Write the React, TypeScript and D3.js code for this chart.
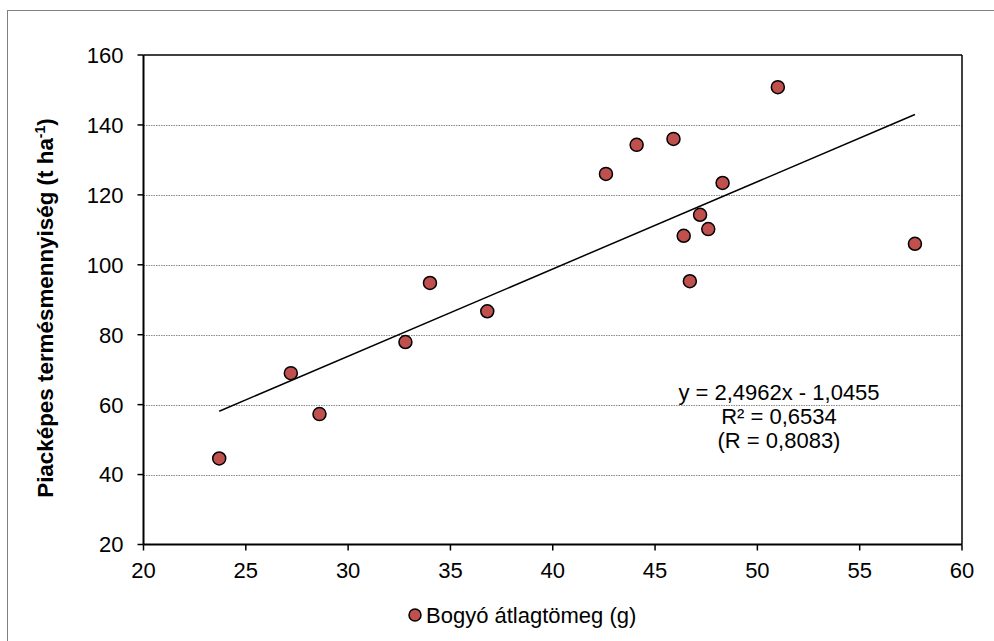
import React from "react";
import * as d3 from "d3";

const xValues = [23.7, 27.2, 28.6, 32.8, 34.0, 36.8, 42.6, 44.1, 45.9, 51.0, 48.3, 47.2, 47.6, 46.4, 46.7, 57.7];
const yValues = [44.6, 69.0, 57.3, 77.9, 94.8, 86.7, 126.0, 134.3, 136.0, 150.8, 123.4, 114.3, 110.2, 108.3, 95.3, 106.0];
const xTicks = [20, 25, 30, 35, 40, 45, 50, 55, 60];
const yTicks = [20, 40, 60, 80, 100, 120, 140, 160];
const gridTicks = [40, 60, 80, 100, 120, 140];
const slope = 2.4962;
const intercept = -1.0455;
const equationLines = ["y = 2,4962x - 1,0455", "R² = 0,6534", "(R = 0,8083)"];
const seriesName = "Bogyó átlagtömeg (g)";

const FONT = "'Liberation Sans', Arial, sans-serif";

export default function App() {
  const left = 143.5, right = 962, top = 55, bottom = 544.5;
  const x = d3.scaleLinear().domain([20, 60]).range([left, right]);
  const y = d3.scaleLinear().domain([20, 160]).range([bottom, top]);
  const xMin = d3.min(xValues) as number;
  const xMax = d3.max(xValues) as number;
  const trend = d3.line<number>().x((d) => x(d)).y((d) => y(slope * d + intercept));
  const fs = 22;

  return (
    <svg width={994} height={641} style={{ position: "absolute", left: 0, top: 0 }} fontFamily={FONT}>
      <rect x={0} y={0} width={994} height={641} fill="#fff" />
      <rect x={7.5} y={10.5} width={1100} height={800} fill="none" stroke="#808080" strokeWidth={1} />
      {gridTicks.map((t) => (
        <line key={t} x1={left} x2={right} y1={Math.round(y(t)) + 0.5} y2={Math.round(y(t)) + 0.5} stroke="#888" strokeWidth={1} strokeDasharray="1.5,1" />
      ))}
      <line x1={left} x2={right} y1={top} y2={top} stroke="#000" strokeWidth={1.5} />
      <line x1={right} x2={right} y1={top} y2={bottom} stroke="#000" strokeWidth={1.5} />
      <line x1={left} x2={left} y1={top} y2={bottom} stroke="#000" strokeWidth={2} />
      <line x1={left} x2={right} y1={bottom} y2={bottom} stroke="#000" strokeWidth={2} />
      {yTicks.map((t) => (
        <g key={t}>
          <line x1={left - 6} x2={left} y1={y(t)} y2={y(t)} stroke="#000" strokeWidth={1.5} />
          <text x={left - 20} y={y(t)} dy="0.36em" textAnchor="end" fontSize={fs} fill="#000">{t}</text>
        </g>
      ))}
      {xTicks.map((t) => (
        <g key={t}>
          <line x1={x(t)} x2={x(t)} y1={bottom} y2={bottom + 6} stroke="#000" strokeWidth={1.5} />
          <text x={x(t)} y={578} textAnchor="middle" fontSize={fs} fill="#000">{t}</text>
        </g>
      ))}
      <path d={trend([xMin, xMax]) || ""} fill="none" stroke="#000" strokeWidth={1.5} />
      {xValues.map((v, i) => (
        <circle key={i} cx={x(v)} cy={y(yValues[i])} r={6.5} fill="#C0504D" stroke="#000" strokeWidth={1.5} />
      ))}
      {equationLines.map((s, i) => (
        <text key={i} x={779} y={400 + i * 24} textAnchor="middle" fontSize={fs} fill="#000">{s}</text>
      ))}
      <text transform={`translate(53, 308) rotate(-90)`} textAnchor="middle" fontSize={22.4} fontWeight="bold" fill="#000">
        Piacképes termésmennyiség (t ha<tspan dy={-8} fontSize={14}>-1</tspan><tspan dy={8}>)</tspan>
      </text>
      <circle cx={415} cy={615} r={6} fill="#C0504D" stroke="#000" strokeWidth={1.5} />
      <text x={426} y={623} fontSize={fs} fill="#000">{seriesName}</text>
    </svg>
  );
}
